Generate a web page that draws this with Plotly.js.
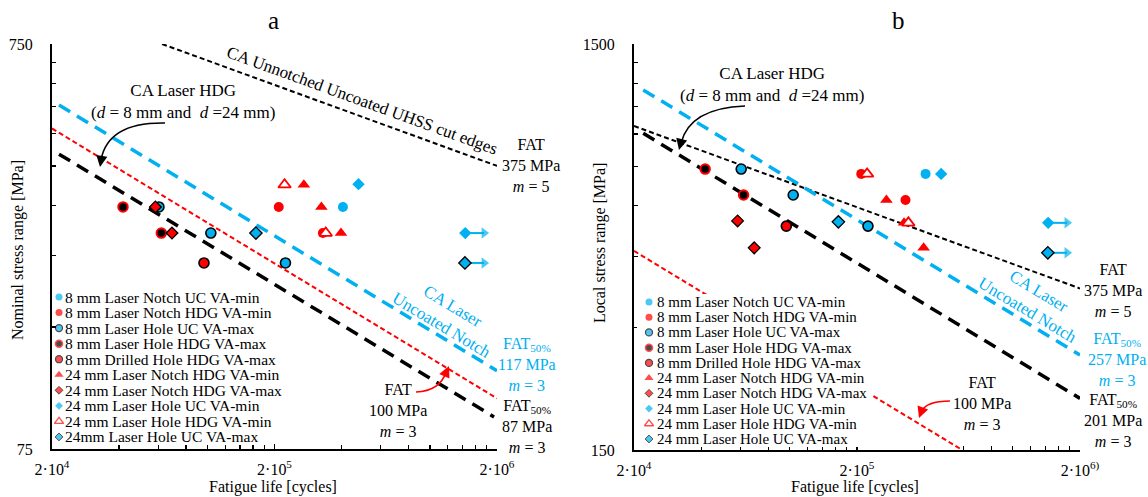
<!DOCTYPE html>
<html><head><meta charset="utf-8">
<script src="https://cdn.plot.ly/plotly-3.0.1.min.js"></script>
<style>html,body{margin:0;padding:0;background:#fff}</style>
</head><body><div id="chart" style="width:1148px;height:497px"></div>
<script>
// ---------------- DATA ----------------
const seriesNames = [
  '8 mm Laser Notch UC VA-min', '8 mm Laser Notch HDG VA-min', '8 mm Laser Hole UC VA-max',
  '8 mm Laser Hole HDG VA-max', '8 mm Drilled Hole HDG VA-max', '24 mm Laser Notch HDG VA-min',
  '24 mm Laser Notch HDG VA-max', '24 mm Laser Hole UC VA-min', '24 mm Laser Hole HDG VA-min',
  '24 mm Laser Hole UC VA-max'];
const legendLabelsA = seriesNames.slice(0, 9).concat(['24mm Laser Hole UC VA-max']);
const legendLabelsB = seriesNames.slice();

// fatigue life [cycles], nominal stress range [MPa] (panel a), local stress range [MPa] (panel b)
const s1Cycles = [406000];                 const s1Nominal = [297];           const s1Local = [718];
const s2Cycles = [209000, 330000];         const s2Nominal = [297, 256];      const s2Local = [718, 619];
const s3Cycles = [60500, 103500, 224000];  const s3Nominal = [297, 256, 216]; const s3Local = [738, 637, 534];
const s4Cycles = [41700, 62000];           const s4Nominal = [297, 256];      const s4Local = [738, 637];
const s5Cycles = [96400];                  const s5Nominal = [216];           const s5Local = [534];
const s6Cycles = [271000, 325000, 398000]; const s6Nominal = [337, 297, 256]; const s6Local = [619, 544, 472];
const s7Cycles = [58300, 69200];           const s7Nominal = [297, 256];      const s7Local = [550, 472];
const s8Cycles = [477000, 1440000];        const s8Nominal = [338, 256];      const s8Local = [718, 544];
const s9Cycles = [222000, 340000];         const s9Nominal = [337, 256];      const s9Local = [718, 544];
const s10Cycles = [165000, 1435000];       const s10Nominal = [256, 216];     const s10Local = [547, 459];

// run-outs (arrows)
const runoutCycles = [1440000, 1435000];
const runoutNominal = [256, 216];
const runoutLocal = [544, 459];
const runoutArrowEnd = 1750000;

// S-N lines (end points)
const lineA_unnotched_N = [62500, 2000000];  const lineA_unnotched_S = [750, 375];
const lineA_laserUC_N   = [21500, 2000000];  const lineA_laserUC_S   = [530, 117];
const lineA_fat100_N    = [20000, 2000000];  const lineA_fat100_S    = [464, 100];
const lineA_hdg_N       = [21500, 1940000];  const lineA_hdg_S       = [401, 90];
const lineB_unnotched_N = [20000, 2000000];  const lineB_unnotched_S = [942, 375];
const lineB_laserUC_N   = [22000, 2000000];  const lineB_laserUC_S   = [1156, 257];
const lineB_fat100_N    = [20000, 592600];   const lineB_fat100_S    = [464, 150];
const lineB_hdg_N       = [22000, 2000000];  const lineB_hdg_S       = [904, 201];

// ticks
const xTickVals = [2e4, 2e5, 2e6];
const xTickTextA = ['2·10<sup>4</sup>', '2·10<sup>5</sup>', '2·10<sup>6</sup>'];
const xTickTextB = ['2·10<sup>4</sup>', '2·10<sup>5</sup>', '2·10<sup>6)</sup>'];
const xMinor = [4e4, 6e4, 8e4, 1e5, 1.2e5, 1.4e5, 1.6e5, 1.8e5, 4e5, 6e5, 8e5, 1e6, 1.2e6, 1.4e6, 1.6e6, 1.8e6];
const yTickValsA = [75, 750];   const yTickTextA = ['75', '750'];
const yMinorA = [150, 225, 300, 375, 450, 525, 600, 675];
const yTickValsB = [150, 1500]; const yTickTextB = ['150', '1500'];
const yMinorB = [300, 450, 600, 750, 900, 1050, 1200, 1350];

// ---------------- STYLE ----------------
const W = 1148, H = 497;
const px = x => x / W, py = y => 1 - y / H;
const FONT = 'Liberation Serif, Times New Roman, serif';
const BLUE = '#00B0F0', RED = '#FF0000', BLACK = '#000000';
const symbols = ['circle','circle','circle','circle','circle','triangle-up','diamond','diamond','triangle-up','diamond'];
const fills = [BLUE, RED, BLUE, BLACK, RED, RED, RED, BLUE, '#FFFFFF', BLUE];
const outlines = [BLUE, RED, BLACK, RED, BLACK, RED, BLACK, BLUE, RED, BLACK];
const outlineW = [0, 0, 1.6, 2, 1.6, 0, 1.3, 0, 1.8, 1.3];
const sizes = [10, 10, 10, 9.5, 10, 11, 9, 9.5, 11, 9.5];
const legendSizes = [7, 7, 7, 7, 7, 8, 6, 6, 8, 6];
const legendOutlineW = [0, 0, 1.3, 1.5, 1.3, 0, 1, 0, 1.3, 1];

const cycles = [s1Cycles, s2Cycles, s3Cycles, s4Cycles, s5Cycles, s6Cycles, s7Cycles, s8Cycles, s9Cycles, s10Cycles];
const nominal = [s1Nominal, s2Nominal, s3Nominal, s4Nominal, s5Nominal, s6Nominal, s7Nominal, s8Nominal, s9Nominal, s10Nominal];
const local = [s1Local, s2Local, s3Local, s4Local, s5Local, s6Local, s7Local, s8Local, s9Local, s10Local];

function lineTrace(x, y, xa, ya, color, width, dash) {
  return {type:'scatter', mode:'lines', x, y, xaxis:xa, yaxis:ya,
    line:{color, width, dash}, hoverinfo:'skip', showlegend:false};
}
function runoutTrace(stress, xa, ya) {
  const x = [], y = [], s = [];
  runoutCycles.forEach((n, i) => { x.push(n, runoutArrowEnd, null); y.push(stress[i], stress[i], null); s.push(0, 10, 0); });
  return {type:'scatter', mode:'lines+markers', x, y, xaxis:xa, yaxis:ya,
    line:{color:BLUE, width:2}, marker:{symbol:'triangle-right', size:s, color:BLUE, line:{width:0}},
    hoverinfo:'skip', showlegend:false, cliponaxis:false};
}
function seriesTraces(stress, xa, ya) {
  return cycles.map((c, i) => ({type:'scatter', mode:'markers', name:seriesNames[i], x:c, y:stress[i],
    xaxis:xa, yaxis:ya, cliponaxis:false, hoverinfo:'skip', showlegend:false,
    marker:{symbol:symbols[i], size:sizes[i], color:fills[i], line:{color:outlines[i], width:outlineW[i]}}}));
}
function legendMarkers(labels, xa, ya, markerX) {
  const idx = labels.map((_, i) => i);
  return {type:'scatter', mode:'markers', x:idx.map(() => markerX), y:idx,
    marker:{symbol:symbols, size:legendSizes, color:fills, line:{color:outlines, width:legendOutlineW}},
    xaxis:xa, yaxis:ya, cliponaxis:false, hoverinfo:'skip', showlegend:false};
}

// legend boxes (pixel geometry)
const legA = {left:54, right:300, top:291, bottom:448, first:297, step:15.55, markerX:5, textX:64, size:15.5};
const legB = {left:637, right:872, top:294, bottom:447, first:302, step:15.22, markerX:12, textX:656, size:15};
function legRange(L) {
  return {x:[0, L.right - L.left], y:[(L.bottom - L.first) / L.step, (L.top - L.first) / L.step]};
}
const legendRangeA = legRange(legA);
const legendRangeB = legRange(legB);

const traces = [
  lineTrace(lineA_unnotched_N, lineA_unnotched_S, 'x', 'y', BLACK, 2, '5px,3px'),
  lineTrace(lineA_laserUC_N, lineA_laserUC_S, 'x', 'y', BLUE, 3.5, '13px,8px'),
  lineTrace(lineA_fat100_N, lineA_fat100_S, 'x', 'y', RED, 2, '5px,3px'),
  lineTrace(lineA_hdg_N, lineA_hdg_S, 'x', 'y', BLACK, 3.5, '13px,8px'),
  runoutTrace(runoutNominal, 'x', 'y'),
  ...seriesTraces(nominal, 'x', 'y'),
  lineTrace(lineB_unnotched_N, lineB_unnotched_S, 'x2', 'y2', BLACK, 2, '5px,3px'),
  lineTrace(lineB_laserUC_N, lineB_laserUC_S, 'x2', 'y2', BLUE, 3.5, '13px,8px'),
  lineTrace(lineB_fat100_N, lineB_fat100_S, 'x2', 'y2', RED, 2, '5px,3px'),
  lineTrace(lineB_hdg_N, lineB_hdg_S, 'x2', 'y2', BLACK, 3.5, '13px,8px'),
  runoutTrace(runoutLocal, 'x2', 'y2'),
  ...seriesTraces(local, 'x2', 'y2'),
  legendMarkers(legendLabelsA, 'x3', 'y3', legA.markerX),
  {type:'scatter', mode:'lines', xaxis:'x4', yaxis:'y4', fill:'toself', fillcolor:'#FFFFFF',
   x:[legendRangeB.x[0], legendRangeB.x[1], legendRangeB.x[1], legendRangeB.x[0], legendRangeB.x[0]],
   y:[legendRangeB.y[1], legendRangeB.y[1], legendRangeB.y[0], legendRangeB.y[0], legendRangeB.y[1]],
   line:{width:0, color:'#FFFFFF'}, hoverinfo:'skip', showlegend:false},
  legendMarkers(legendLabelsB, 'x4', 'y4', legB.markerX)
];

function logAxis(domain, range, tickvals, ticktext, minorvals, standoff, anchor) {
  return {type:'log', domain, range:[Math.log10(range[0]), Math.log10(range[1])], anchor,
    tickmode:'array', tickvals, ticktext, ticks:'inside', ticklen:5, tickwidth:1.5, tickcolor:'black',
    showline:true, linewidth:2, linecolor:'black', showgrid:false, zeroline:false,
    tickfont:{family:FONT, size:16, color:'black'}, ticklabelstandoff:standoff,
    minor:{tickmode:'array', tickvals:minorvals, ticks:'inside', ticklen:4, tickwidth:1.2, tickcolor:'black', showgrid:false},
    fixedrange:true};
}
function hiddenAxis(domain, range, anchor) {
  return {domain, range, anchor, visible:false, fixedrange:true, showgrid:false, zeroline:false};
}

// ---------------- TEXT ----------------
const ann = [];
function txt(x, y, text, size, color, angle) {
  ann.push({xref:'paper', yref:'paper', x:px(x), y:py(y), text, showarrow:false,
    xanchor:'center', yanchor:'middle', align:'center', textangle:angle || 0,
    font:{family:FONT, size, color:color || 'black'}});
}
function head(x, y, ax, ay, color) {
  ann.push({xref:'paper', yref:'paper', x:px(x), y:py(y), ax, ay, text:' ', showarrow:true,
    arrowhead:2, arrowsize:1.4, arrowwidth:1.6, arrowcolor:color, standoff:0, startstandoff:0,
    font:{family:FONT, size:2}});
}
function legendLabels(labels, L) {
  labels.forEach((t, i) => ann.push({xref:'paper', yref:'paper', x:px(L.textX), y:py(L.first + i * L.step),
    text:t, showarrow:false, xanchor:'left', yanchor:'middle', borderpad:0,
    font:{family:FONT, size:L.size, color:'black'}}));
}
legendLabels(legendLabelsA, legA);
legendLabels(legendLabelsB, legB);

const hdgText = 'CA Laser HDG<br>(<i>d</i> = 8 mm and&nbsp; <i>d</i> =24 mm)';
txt(273, 21, 'a', 25); txt(898, 21, 'b', 25);
txt(183, 101, hdgText, 17); txt(772, 84, hdgText, 17);
txt(362, 100, 'CA Unnotched Uncoated UHSS cut edges', 17, BLACK, 20);
txt(531, 165, 'FAT<br>375 MPa<br><i>m</i> = 5', 16);
txt(447, 315, 'CA Laser<br>Uncoated Notch', 17, BLUE, 31);
txt(527, 364, 'FAT<sub>50%</sub><br>117 MPa<br><i>m</i> = 3', 16, BLUE);
txt(398, 410, 'FAT<br>100 MPa<br><i>m</i> = 3', 16);
txt(527, 426, 'FAT<sub>50%</sub><br>87 MPa<br><i>m</i> = 3', 16);
txt(1113, 290, 'FAT<br>375 MPa<br><i>m</i> = 5', 16);
txt(1033, 300, 'CA Laser<br>Uncoated Notch', 17, BLUE, 31);
txt(1117, 359, 'FAT<sub>50%</sub><br>257 MPa<br><i>m</i> = 3', 16, BLUE);
txt(982, 403, 'FAT<br>100 MPa<br><i>m</i> = 3', 16);
txt(1113, 420, 'FAT<sub>50%</sub><br>201 MPa<br><i>m</i> = 3', 16);
txt(18, 250, 'Nominal stress range [MPa]', 16, BLACK, -90);
txt(600, 243, 'Local stress range [MPa]', 16, BLACK, -90);
txt(273, 487, 'Fatigue life [cycles]', 16);
txt(855, 487, 'Fatigue life [cycles]', 16);
head(100, 167, 2, -12, BLACK);
head(679, 150, 3, -12, BLACK);
head(449, 366, -5, 11, RED);
head(919, 418, 4, -11, RED);

function curve(pts, color) {
  const [a, c, b] = pts;
  return {type:'path', xref:'paper', yref:'paper', layer:'above',
    path:`M ${px(a[0])} ${py(a[1])} Q ${px(c[0])} ${py(c[1])} ${px(b[0])} ${py(b[1])}`,
    line:{color, width:1.6}};
}
const shapes = [
  curve([[165, 123], [108, 122], [101, 160]], BLACK),
  curve([[745, 106], [690, 108], [681, 143]], BLACK),
  curve([[416, 392], [440, 391], [446, 372]], RED),
  curve([[950, 401], [926, 401], [921, 412]], RED)
];

const layout = {
  width:W, height:H, margin:{l:0, r:0, t:0, b:0}, paper_bgcolor:'#FFFFFF', plot_bgcolor:'rgba(0,0,0,0)',
  showlegend:false, hovermode:false, font:{family:FONT, color:'black'},
  xaxis: logAxis([52/W, 497/W], [2e4, 2e6], xTickVals, xTickTextA, xMinor, 5, 'y'),
  yaxis: logAxis([1-449/H, 1-44/H], [75, 750], yTickValsA, yTickTextA, yMinorA, 14, 'x'),
  xaxis2: logAxis([634/W, 1080/W], [2e4, 2e6], xTickVals, xTickTextB, xMinor, 5, 'y2'),
  yaxis2: logAxis([1-450/H, 1-44/H], [150, 1500], yTickValsB, yTickTextB, yMinorB, 14, 'x2'),
  xaxis3: hiddenAxis([legA.left/W, legA.right/W], legendRangeA.x, 'y3'),
  yaxis3: hiddenAxis([1-legA.bottom/H, 1-legA.top/H], legendRangeA.y, 'x3'),
  xaxis4: hiddenAxis([legB.left/W, legB.right/W], legendRangeB.x, 'y4'),
  yaxis4: hiddenAxis([1-legB.bottom/H, 1-legB.top/H], legendRangeB.y, 'x4'),
  annotations: ann, shapes
};
Plotly.newPlot('chart', traces, layout, {displayModeBar:false, staticPlot:true});
</script></body></html>
